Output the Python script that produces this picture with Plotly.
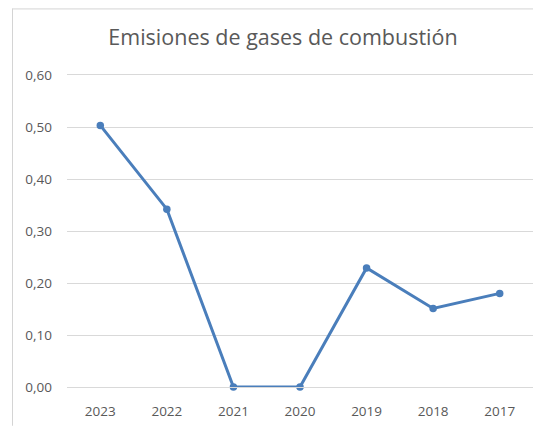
import plotly.graph_objects as go

years = ["2023", "2022", "2021", "2020", "2019", "2018", "2017"]
values = [0.503, 0.342, 0.0, 0.0, 0.229, 0.151, 0.180]
title = "Emisiones de gases de combustión"

W, H = 533, 420
L, R, T, B = 59, 8, 67, 39
pw, ph = W - L - R, H - T - B

def px(fx):
    return (fx - L) / pw

def py(fy):
    return 1 + (T - fy) / ph

fig = go.Figure()
fig.add_trace(go.Scatter(
    x=years, y=values, mode="lines+markers",
    line=dict(color="#4a7ebb", width=3),
    marker=dict(color="#4a7ebb", size=7.5),
    cliponaxis=False, showlegend=False,
))

fig.update_layout(
    width=W, height=H,
    margin=dict(l=L, r=R, t=T, b=B),
    paper_bgcolor="white", plot_bgcolor="white",
    separators=",.",
    title=dict(text=title, x=275 / W, xanchor="center", y=1 - 29 / H, yanchor="middle",
               font=dict(family="Open Sans", size=21.5, color="#595959")),
    font=dict(family="Open Sans", size=13, color="#595959"),
    xaxis=dict(type="category", range=[-0.5, 6.5], showgrid=False, zeroline=False,
               showline=True, mirror=True, linecolor="#d9d9d9", linewidth=1,
               ticks="", ticklabelstandoff=12,
               tickfont=dict(size=13.5, color="#595959")),
    yaxis=dict(range=[0, 0.6], tickvals=[0, 0.1, 0.2, 0.3, 0.4, 0.5, 0.6],
               tickformat=".2f", showgrid=True,
               gridcolor="#d9d9d9", gridwidth=1, zeroline=False, showline=False,
               ticks="", ticklabelstandoff=14, tickfont=dict(size=13.5, color="#595959")),
    shapes=[
        dict(type="line", xref="paper", yref="paper", x0=px(4.5), x1=px(4.5), y0=py(H), y1=py(0),
             line=dict(color="#d4d4d4", width=1)),
        dict(type="line", xref="paper", yref="paper", x0=px(4.5), x1=px(W), y0=py(0.5), y1=py(0.5),
             line=dict(color="#d4d4d4", width=1)),
    ],
)

fig.write_html("out.html")
